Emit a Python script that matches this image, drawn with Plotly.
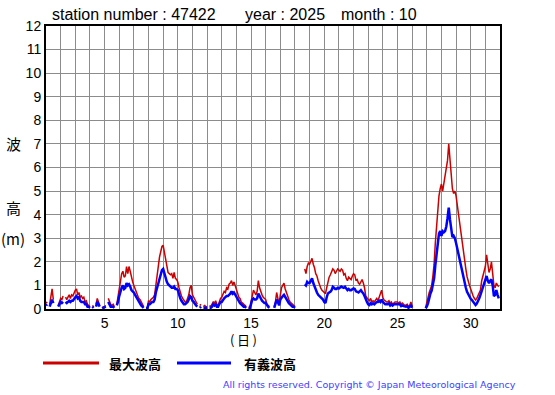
import plotly.graph_objects as go

# ---- data (2-hourly readings, 12 per day, day 1..31) ----
days = list(range(1, 32))
steps_per_day = 12

max_wave_by_day = [
    [0.25, 0.3, None, 0.2, 0.5, 0.85, 0.4, None, 0.2, None, 0.15, 0.3],       # 1
    [0.45, 0.4, 0.55, None, 0.5, 0.4, 0.5, 0.6, 0.45, 0.6, 0.55, 0.7],         # 2
    [0.8, 0.85, 0.6, 0.7, 0.5, 0.55, 0.45, 0.5, 0.3, 0.35, 0.2, 0.15],         # 3
    [0.1, None, 0.15, 0.1, None, 0.2, 0.45, 0.3, 0.15, None, 0.05, 0.1],       # 4
    [0.1, 0.15, None, 0.45, 0.3, 0.2, 0.15, 0.2, 0.1, None, 0.2, 0.5],         # 5
    [0.9, 1.2, 1.5, 1.6, 1.35, 1.4, 1.8, 1.5, 1.8, 1.6, 1.3, 1.15],            # 6
    [1.0, 0.85, 0.7, 0.6, 0.45, 0.4, 0.3, 0.2, 0.1, None, 0.05, 0.05],         # 7
    [0.35, 0.3, 0.4, 0.45, 0.5, 0.6, 1.1, 1.5, 1.8, 2.2, 2.4, 2.65],           # 8
    [2.7, 2.4, 2.0, 1.7, 1.55, 1.5, 1.45, 1.5, 1.3, 1.55, 1.3, 1.25],          # 9
    [1.15, 0.9, 0.65, 0.55, 0.45, 0.35, 0.3, 0.3, 0.45, 0.6, 0.9, 1.0],        # 10
    [0.6, 0.5, 0.4, 0.3, 0.2, None, 0.15, 0.2, None, 0.1, 0.15, 0.1],          # 11
    [0.1, None, 0.15, 0.1, 0.2, 0.3, 0.25, 0.35, 0.2, 0.15, 0.3, 0.45],        # 12
    [0.5, 0.6, 0.75, 0.7, 0.9, 0.85, 1.05, 1.1, 1.2, 1.0, 1.15, 1.0],          # 13
    [0.8, 0.65, 0.5, 0.45, 0.3, 0.25, 0.2, 0.15, 0.1, None, 0.1, 0.05],        # 14
    [0.3, 0.6, 0.8, 0.7, 0.6, 0.75, 1.2, 0.9, 0.7, 0.6, 0.5, 0.45],            # 15
    [0.4, 0.2, 0.15, 0.1, None, 0.05, None, 0.1, 0.3, 0.7, 0.4, 0.2],          # 16
    [0.6, 0.9, 1.0, 1.1, 0.85, 0.7, 0.5, 0.4, 0.3, 0.25, 0.2, 0.15],           # 17
    [0.1, None, 0.05, None, None, 0.05, None, None, 1.7, 1.5, 1.8, 1.95],      # 18
    [1.9, 2.0, 2.15, 1.9, 1.75, 1.5, 1.4, 1.2, 1.0, 0.9, 0.8, 0.75],           # 19
    [0.7, 0.65, 0.9, 1.2, 1.35, 1.45, 1.55, 1.7, 1.65, 1.5, 1.6, 1.7],         # 20
    [1.65, 1.6, 1.7, 1.65, 1.45, 1.5, 1.3, 1.2, 1.35, 1.3, 1.25, 1.4],         # 21
    [1.5, 1.45, 1.2, 1.25, 1.1, 1.05, 1.15, 1.25, 1.1, 0.9, 0.55, 0.45],       # 22
    [0.4, 0.35, 0.45, 0.3, 0.35, 0.3, 0.4, 0.45, 0.35, 0.5, 0.6, 0.8],         # 23
    [0.5, 0.38, 0.35, 0.3, 0.3, 0.35, 0.25, 0.3, 0.2, 0.25, 0.3, 0.3],         # 24
    [0.3, 0.25, 0.3, 0.2, 0.25, 0.2, 0.15, 0.17, 0.2, 0.1, 0.15, 0.3],         # 25
    [0.1, None, 0.05, None, 0.05, None, None, 0.05, None, 0.05, None, 0.05],   # 26
    [0.3, 0.5, 0.7, 0.85, 1.0, 1.4, 1.9, 2.8, 3.6, 4.2, 4.8, 5.1],             # 27
    [5.3, 5.0, 5.3, 5.6, 5.9, 6.3, 7.0, 6.4, 5.6, 5.1, 4.9, 5.0],              # 28
    [4.8, 4.4, 3.95, 3.55, 3.2, 2.75, 2.3, 2.0, 1.7, 1.37, 1.15, 1.0],         # 29
    [0.85, 0.68, 0.55, 0.45, 0.38, 0.45, 0.55, 0.65, 0.8, 1.2, 1.4, 1.6],      # 30
    [1.8, 2.3, 1.85, 1.55, 1.7, 2.0, 1.5, 1.0, 0.9, 1.1, 1.0, 0.95],           # 31
]

sig_wave_by_day = [
    [0.15, 0.2, None, 0.1, 0.3, 0.4, 0.25, None, 0.1, None, 0.1, 0.2],        # 1
    [0.3, 0.25, 0.3, None, 0.3, 0.25, 0.3, 0.35, 0.3, 0.35, 0.35, 0.45],       # 2
    [0.5, 0.55, 0.45, 0.5, 0.35, 0.3, 0.3, 0.3, 0.2, 0.2, 0.1, 0.1],           # 3
    [0.05, None, 0.1, 0.05, None, 0.1, 0.3, 0.2, 0.1, None, 0.03, 0.05],       # 4
    [0.05, 0.1, None, 0.3, 0.2, 0.1, 0.1, 0.1, 0.05, None, 0.15, 0.3],         # 5
    [0.55, 0.75, 0.9, 1.0, 0.85, 0.9, 1.1, 1.0, 1.05, 0.95, 0.8, 0.75],        # 6
    [0.7, 0.6, 0.5, 0.4, 0.3, 0.2, 0.15, 0.1, 0.05, None, 0.03, 0.03],         # 7
    [0.2, 0.2, 0.25, 0.3, 0.3, 0.4, 0.7, 0.9, 1.1, 1.3, 1.5, 1.65],            # 8
    [1.7, 1.5, 1.3, 1.15, 1.05, 1.0, 0.95, 0.9, 0.9, 0.95, 0.85, 0.85],        # 9
    [0.8, 0.6, 0.45, 0.35, 0.25, 0.2, 0.2, 0.25, 0.3, 0.4, 0.55, 0.5],         # 10
    [0.35, 0.3, 0.2, 0.15, 0.1, None, 0.05, 0.1, None, 0.05, 0.05, 0.05],      # 11
    [0.05, None, 0.05, 0.05, 0.1, 0.2, 0.15, 0.2, 0.1, 0.1, 0.2, 0.3],         # 12
    [0.3, 0.4, 0.45, 0.5, 0.55, 0.55, 0.6, 0.65, 0.75, 0.65, 0.7, 0.6],        # 13
    [0.5, 0.4, 0.3, 0.25, 0.2, 0.15, 0.1, 0.1, 0.05, None, 0.05, 0.03],        # 14
    [0.2, 0.4, 0.45, 0.4, 0.4, 0.45, 0.65, 0.55, 0.4, 0.35, 0.3, 0.25],        # 15
    [0.25, 0.15, 0.1, 0.05, None, 0.03, None, 0.05, 0.2, 0.4, 0.3, 0.15],      # 16
    [0.4, 0.5, 0.55, 0.6, 0.5, 0.4, 0.3, 0.25, 0.2, 0.15, 0.1, 0.1],           # 17
    [0.05, None, 0.03, None, None, 0.05, None, None, 1.05, 1.0, 1.15, 1.1],    # 18
    [1.1, 1.2, 1.3, 1.1, 0.95, 0.8, 0.7, 0.6, 0.55, 0.5, 0.45, 0.4],           # 19
    [0.3, 0.25, 0.5, 0.66, 0.7, 0.73, 0.8, 0.94, 0.9, 0.85, 0.85, 0.9],        # 20
    [0.87, 0.9, 0.95, 0.92, 0.9, 0.94, 0.85, 0.8, 0.85, 0.8, 0.8, 0.85],       # 21
    [0.87, 0.85, 0.75, 0.73, 0.7, 0.75, 0.8, 0.72, 0.66, 0.55, 0.38, 0.3],     # 22
    [0.2, 0.17, 0.25, 0.2, 0.24, 0.2, 0.25, 0.3, 0.3, 0.35, 0.3, 0.4],         # 23
    [0.3, 0.24, 0.2, 0.2, 0.2, 0.24, 0.15, 0.2, 0.15, 0.2, 0.2, 0.2],          # 24
    [0.2, 0.17, 0.2, 0.12, 0.15, 0.12, 0.1, 0.1, 0.12, 0.05, 0.1, 0.17],       # 25
    [0.05, None, 0.03, None, 0.03, None, None, 0.03, None, 0.03, None, 0.03],  # 26
    [0.1, 0.24, 0.5, 0.66, 0.78, 1.0, 1.3, 1.85, 2.4, 2.8, 3.2, 3.3],          # 27
    [3.1, 3.3, 3.25, 3.3, 3.5, 3.85, 4.3, 3.8, 3.3, 3.05, 3.1, 3.0],           # 28
    [2.8, 2.55, 2.35, 2.1, 1.85, 1.5, 1.28, 1.1, 0.9, 0.73, 0.63, 0.5],        # 29
    [0.43, 0.38, 0.32, 0.25, 0.17, 0.23, 0.33, 0.45, 0.6, 0.78, 0.9, 1.05],    # 30
    [1.23, 1.4, 1.2, 1.1, 1.2, 1.25, 1.0, 0.55, 0.6, 0.8, 0.6, 0.45],          # 31
]

x_tick_values = list(range(1, 33))
x_tick_labels = [str(d) if d % 5 == 0 else "" for d in x_tick_values]
y_tick_values = list(range(0, 13))

series_names = ["最大波高", "有義波高"]
title_parts = ["station number : 47422", "year : 2025", "month : 10"]
y_title_parts = ["波", "高", "(m)"]
x_title = "(\u2009日\u2009)"
copyright_text = "All rights reserved. Copyright © Japan Meteorological Agency"

# ---- build series ----
max_wave = [v for day in max_wave_by_day for v in day]
sig_wave = [v for day in sig_wave_by_day for v in day]
times = [d + k / steps_per_day for d in days for k in range(steps_per_day)]

RED = "#cc0000"
BLUE = "#0000ff"

fig = go.Figure()
fig.add_trace(go.Scatter(x=times, y=max_wave, mode="lines", name=series_names[0],
                         line=dict(color=RED, width=1.5), connectgaps=False, showlegend=False))
fig.add_trace(go.Scatter(x=times, y=sig_wave, mode="lines", name=series_names[1],
                         line=dict(color=BLUE, width=2.5), connectgaps=False, showlegend=False))

W, H = 555, 395
L, R, T, B = 46, 500, 26, 309


def px(x):
    return (x - L) / (R - L)


def py(y):
    return (B - y) / (B - T)


tick_font = dict(family="Liberation Sans, Arial, sans-serif", size=14, color="black")

fig.update_layout(
    width=W, height=H,
    margin=dict(l=L, r=W - R, t=T, b=H - B, pad=0),
    paper_bgcolor="white", plot_bgcolor="white",
    xaxis=dict(range=[1, 32], tickvals=x_tick_values, ticktext=x_tick_labels,
               showgrid=True, gridcolor="#8c8c8c", gridwidth=1,
               showline=True, linecolor="black", linewidth=2, mirror=True,
               ticks="", tickfont=tick_font, zeroline=False, fixedrange=True),
    yaxis=dict(range=[0, 12], tickvals=y_tick_values,
               showgrid=True, gridcolor="#8c8c8c", gridwidth=1,
               showline=True, linecolor="black", linewidth=2, mirror=True,
               ticks="", tickfont=tick_font, zeroline=False, fixedrange=True),
    showlegend=False,
)

annotations = []
title_font = dict(family="Liberation Sans, Arial, sans-serif", size=16, color="black")
for text, xpix in zip(title_parts, [50, 243, 339]):
    annotations.append(dict(text=text, x=px(xpix), y=py(15), xref="paper", yref="paper",
                            xanchor="left", yanchor="middle", showarrow=False, font=title_font))

cjk_font = dict(family="Noto Sans CJK JP, sans-serif", size=15, color="black")
for text, ypix in zip(y_title_parts, [143, 207, 238]):
    annotations.append(dict(text=text, x=px(13), y=py(ypix), xref="paper", yref="paper",
                            xanchor="center", yanchor="middle", showarrow=False, font=cjk_font))

annotations.append(dict(text=x_title, x=px(243), y=py(340), xref="paper", yref="paper",
                        xanchor="center", yanchor="middle", showarrow=False,
                        font=dict(family="Noto Sans CJK JP, sans-serif", size=13, color="black")))

legend_font = dict(family="Noto Sans CJK JP, sans-serif", size=13, color="black")
shapes = []
for name, color, x0, x1, xt in [(series_names[0], RED, 43, 99, 107),
                                (series_names[1], BLUE, 177, 231, 242)]:
    shapes.append(dict(type="line", xref="paper", yref="paper", x0=px(x0), x1=px(x1),
                       y0=py(363), y1=py(363), line=dict(color=color, width=3)))
    annotations.append(dict(text="<b>" + name + "</b>", x=px(xt), y=py(363), xref="paper", yref="paper",
                            xanchor="left", yanchor="middle", showarrow=False, font=legend_font))

annotations.append(dict(text=copyright_text, x=px(518), y=py(384), xref="paper", yref="paper",
                        xanchor="right", yanchor="middle", showarrow=False,
                        font=dict(family="DejaVu Sans, sans-serif", size=9.5, color="#4040ff")))

fig.update_layout(annotations=annotations, shapes=shapes)

fig.write_html("out.html", config={"displayModeBar": False},
               post_script="document.body.style.margin='0';")
